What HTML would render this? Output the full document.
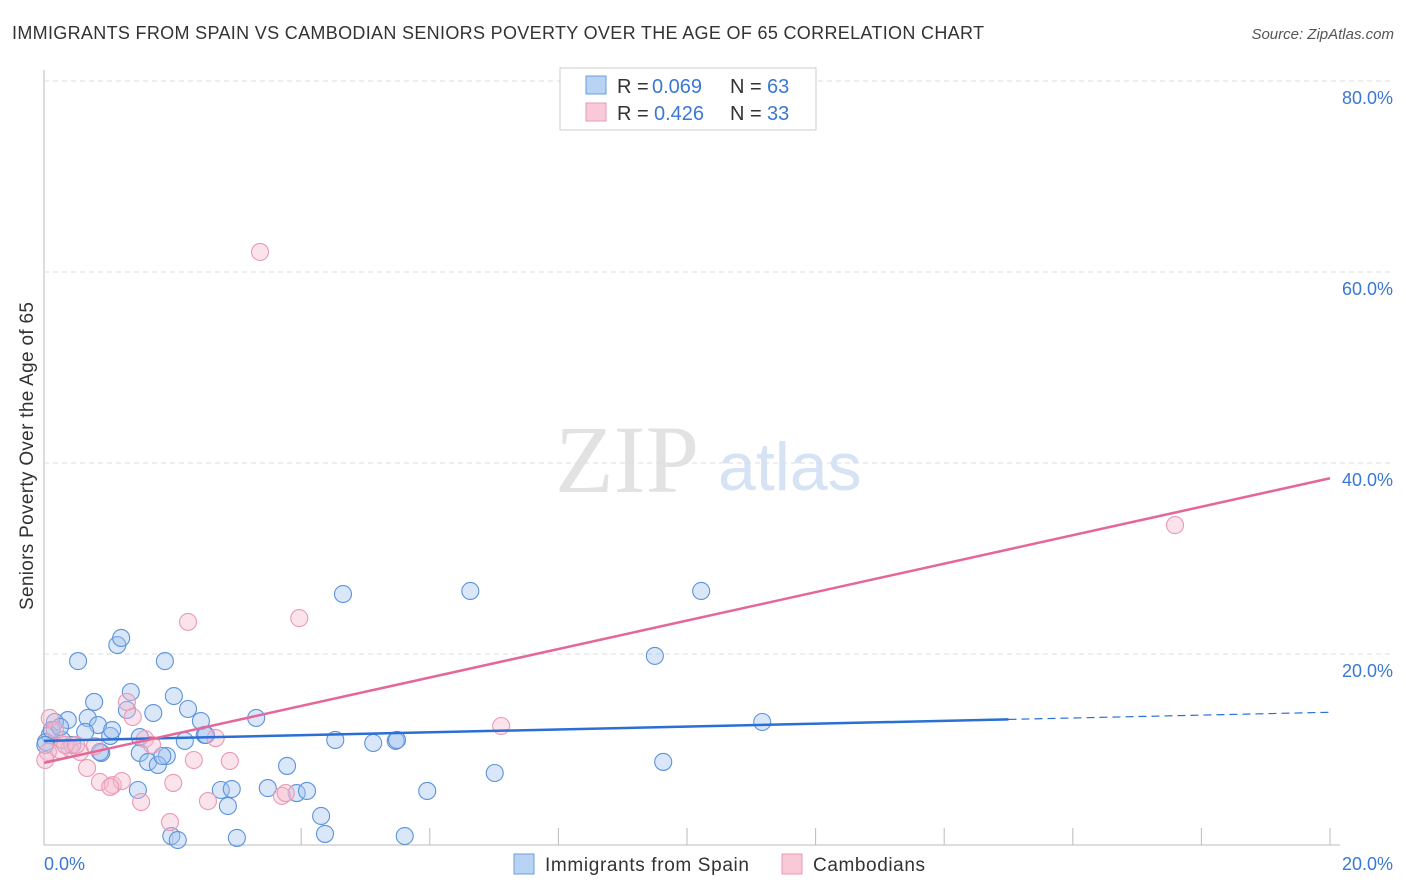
<!DOCTYPE html>
<html><head><meta charset="utf-8"><style>
body{margin:0;background:#fff;font-family:"Liberation Sans",sans-serif;}
svg{display:block}
</style></head><body>
<svg id="chart" width="1406" height="892">
<text x="12" y="39" font-size="18" fill="#333" textLength="972" lengthAdjust="spacing">IMMIGRANTS FROM SPAIN VS CAMBODIAN SENIORS POVERTY OVER THE AGE OF 65 CORRELATION CHART</text>
<text x="1394" y="39" font-size="15" fill="#555" font-style="italic" text-anchor="end">Source: ZipAtlas.com</text>
<text transform="translate(33,456) rotate(-90)" font-size="19" fill="#333" text-anchor="middle" textLength="308" lengthAdjust="spacing">Seniors Poverty Over the Age of 65</text>
<text x="555" y="492" font-size="96" font-family="Liberation Serif,serif" fill="#e2e2e2">ZIP</text>
<text x="718" y="490" font-size="68" fill="#d6e3f5">atlas</text>
<g id="grid"></g><g id="pts"></g><g id="trend"></g>
<g>
<rect x="560" y="68" width="256" height="62" fill="#fff" stroke="#ccc"/>
<rect x="586" y="76" width="20" height="18" fill="#b8d4f5" stroke="#6b9de0"/>
<rect x="586" y="103" width="20" height="18" fill="#f9c9d8" stroke="#e89ab4"/>
<text y="93" font-size="20" fill="#333"><tspan x="617">R =</tspan><tspan x="652" fill="#3a78d4">0.069</tspan><tspan x="730">N =</tspan><tspan x="767" fill="#3a78d4">63</tspan></text>
<text y="120" font-size="20" fill="#333"><tspan x="617">R =</tspan><tspan x="654" fill="#3a78d4">0.426</tspan><tspan x="730">N =</tspan><tspan x="767" fill="#3a78d4">33</tspan></text>
</g>
<g>
<rect x="514" y="854" width="20" height="20" fill="#b8d4f5" stroke="#6b9de0"/>
<text x="545" y="871" font-size="19" fill="#333" textLength="204" lengthAdjust="spacing">Immigrants from Spain</text>
<rect x="782" y="854" width="20" height="20" fill="#f9c9d8" stroke="#e89ab4"/>
<text x="813" y="871" font-size="19" fill="#333" textLength="112" lengthAdjust="spacing">Cambodians</text>
</g>
</svg>
<script>
const yTicks=[20,40,60,80];
const xTickLabels=["0.0%","20.0%"];
const blueX=[0.53,1.14,1.20,1.88,0.78,1.35,1.70,2.24,2.02,2.44,2.50,3.30,0.37,0.68,0.17,0.09,0.28,0.84,1.03,1.06,1.29,0.64,0.44,0.89,1.49,1.91,1.62,1.77,2.19,2.75,2.92,2.86,3.48,3.78,3.93,4.09,4.31,4.37,1.98,2.08,3.00,4.65,6.63,10.22,9.50,11.17,4.53,5.12,5.47,5.49,5.96,7.01,9.63,5.61,1.46,0.03,0.12,0.25,0.02,1.84,1.49,2.52,0.87];
const blueY=[19.26,20.94,21.68,19.26,14.98,16.02,13.82,14.24,15.6,12.98,11.52,13.3,13.08,13.3,12.88,11.52,11.0,12.56,11.42,12.04,14.14,11.84,10.48,9.64,9.64,9.32,8.7,8.38,10.9,5.76,5.86,4.08,5.96,8.28,5.44,5.66,3.04,1.16,0.94,0.52,0.74,26.28,26.6,26.6,19.8,12.88,11.0,10.68,10.9,11.0,5.66,7.54,8.7,0.94,5.76,10.78,12.04,12.36,10.48,9.32,11.3,11.52,9.74];
const pinkX=[3.36,17.59,2.24,3.97,1.29,1.38,1.57,1.68,2.67,2.89,2.33,2.01,2.55,1.51,1.96,3.70,3.76,7.11,0.25,0.40,0.56,0.67,0.87,1.07,1.21,1.03,0.09,0.17,0.06,0.33,0.79,0.02,0.50];
const pinkY=[62.1,33.5,23.36,23.76,14.98,13.4,11.1,10.48,11.2,8.8,8.9,6.5,4.6,4.5,2.4,5.14,5.44,12.46,9.94,10.16,9.74,8.06,6.6,6.28,6.7,6.08,13.3,12.04,9.74,10.48,10.36,8.9,10.48];
const blueTrend=[10.9,13.9], pinkTrend=[8.6,38.4], blueSolidEnd=15.0;
const X=v=>44+v*64.3, Y=v=>845-v*9.55;
const NS="http://www.w3.org/2000/svg";
function mk(t,a,p){const e=document.createElementNS(NS,t);for(const k in a)e.setAttribute(k,a[k]);p.appendChild(e);return e;}
const g=document.getElementById('grid');
mk('line',{x1:44,y1:70,x2:44,y2:845,stroke:'#bbb'},g);
mk('line',{x1:44,y1:845,x2:1340,y2:845,stroke:'#bbb'},g);
yTicks.forEach(v=>{
 const l=mk('line',{x1:44,y1:Y(v),x2:1394,y2:Y(v),stroke:'#ddd','stroke-dasharray':'5,4'},g);
 
 
 const t=mk('text',{x:1393,y:Y(v)+23,'font-size':18,fill:'#3a78d4','text-anchor':'end'},g);
 t.textContent=v.toFixed(1)+'%';
 
 
});
for(let i=1;i<=10;i++){const l=mk('line',{x1:X(i*2),y1:828,x2:X(i*2),y2:845,stroke:'#bbb'},g);
 
 }
const t0=mk('text',{x:44,y:870,'font-size':18,fill:'#3a78d4'},g);t0.textContent=xTickLabels[0];


const t1=mk('text',{x:1393,y:870,'font-size':18,fill:'#3a78d4','text-anchor':'end'},g);t1.textContent=xTickLabels[1];


const p=document.getElementById('pts');
blueX.forEach((x,i)=>{const c=mk('circle',{cx:X(x),cy:Y(blueY[i]),r:8.5,fill:'rgba(160,196,240,0.4)',stroke:'#5b93dc','stroke-width':1.1},p);
 
 });
pinkX.forEach((x,i)=>{const c=mk('circle',{cx:X(x),cy:Y(pinkY[i]),r:8.5,fill:'rgba(246,184,204,0.4)',stroke:'#ea9ab5','stroke-width':1.1},p);
 
 });
const tr=document.getElementById('trend');
const by=x=>blueTrend[0]+(blueTrend[1]-blueTrend[0])*x/20;
const l1=mk('line',{x1:X(0),y1:Y(by(0)),x2:X(blueSolidEnd),y2:Y(by(blueSolidEnd)),stroke:'#2a6fd6','stroke-width':2.5},tr);


const l2=mk('line',{x1:X(blueSolidEnd),y1:Y(by(blueSolidEnd)),x2:X(20),y2:Y(by(20)),stroke:'#2a6fd6','stroke-width':1.2,'stroke-dasharray':'8,5'},tr);


const l3=mk('line',{x1:X(0),y1:Y(pinkTrend[0]),x2:X(20),y2:Y(pinkTrend[1]),stroke:'#e5679a','stroke-width':2.5},tr);


</script>
</body></html>
